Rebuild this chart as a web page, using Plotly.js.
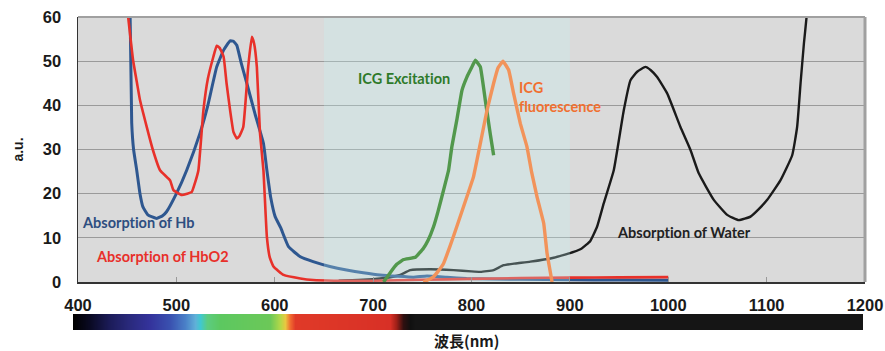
<!DOCTYPE html>
<html>
<head>
<meta charset="utf-8">
<script src="https://cdn.plot.ly/plotly-3.0.1.min.js"></script>
<style>
html,body{margin:0;padding:0;background:#fff;}
#chart{width:885px;height:351px;}
svg text{font-variant-ligatures:none;font-feature-settings:"liga" 0, "clig" 0;}
</style>
</head>
<body>
<div id="chart"></div>
<script>
// ---- Data ----
const hbNm = [453,454.6,456.5,459.7,463,466,471,480,486,490,500,510.5,524,532,541,548,554.6,558,561.4,566,571.6,580,588.5,592,596,600.4,606,614,626,639,656,673,690,707,725,741,754.7,775,795,850,900,950,1000];
const hbVal = [60,36,30,25.3,20,17,15.2,14.4,15,15.9,20,25.3,33.7,40,48.7,52.5,54.6,54.5,53.6,49.5,45,38,31.4,25.3,19,14.8,12.3,8,5.7,4.6,3.5,2.7,2.1,1.6,1.3,1.1,1.35,1.06,0.8,0.6,0.5,0.45,0.4];

const hbo2Nm = [451,456,460,463,470,476,483.4,493.6,497,505.5,511,515.7,519,522.4,527.5,532,537.6,541,544,548,551,554.6,558,561.4,564,568,573,576.7,579,581.8,585,588.5,592,595,598.7,609,626,639,660,700,750,800,850,900,950,1000];
const hbo2Val = [60,50.2,45,41.2,35,30,25.3,23,20.8,19.7,20,20.4,22.5,25.3,38.9,46,51,53.5,53,51,45,38.9,34,32.5,33,35.1,48.7,55.5,54,48.7,33.7,25.3,10.2,5.5,3.5,1.6,0.8,0.45,0.3,0.3,0.5,0.7,0.9,1.0,1.05,1.1];

const waterNm = [665,690,707,720,727.6,737.7,758,781.8,800,809,822.5,832.6,845,859.8,883.5,895,903.8,912,920.8,927.6,934.4,944.6,954.8,961.6,968.4,976.8,982,988.7,998.9,1012.4,1022.6,1031,1046.3,1059.9,1071.7,1083.6,1092,1100.6,1114,1126,1131,1134.5,1137.9,1140.6,1142];
const waterVal = [0.3,0.5,0.8,1.2,1.6,2.7,2.9,2.7,2.4,2.3,2.7,3.8,4.2,4.6,5.5,6.2,6.8,7.6,9.3,12.5,17.8,25.3,38.9,45.7,47.6,48.7,48,46.4,42.7,35.1,29.9,24.6,18.6,15.2,14,14.8,16.5,18.6,23,28.7,35.1,45,54,60,65];

const icgExNm = [710.6,717,724,731,743,751,756,761.4,766,771.6,776.7,780,785,790.3,795.3,800,803.9,809,814,819,822.5];
const icgExVal = [0,2,4,5.1,5.6,7.6,9.5,12.5,16,20.8,25.3,30.6,36.6,43.4,46.4,48.5,50.2,48.7,41.2,33.6,28.7];

const icgFlNm = [751,756,761.4,766,771.6,778,785,795.3,802,809,815.8,822.5,827,832,837.8,842.8,849.6,856.4,861,866.6,873.4,876.8,881.9];
const icgFlVal = [0,0.5,1.2,2.4,4.2,8,12.5,19.3,23.8,31.4,38.9,45,48.5,50,48,42.7,35.9,30.6,25,19.3,13.3,6.5,0];

const nirWindow = [650, 900];
const yMax = 60;

const xTicks = [400,500,600,700,800,900,1000,1100,1200];
const yTicks = [0,10,20,30,40,50,60];

// visible spectrum bar stops
const spectrumNm = [395,412,433,453,473,494,509,519,524,531,545,595,606,611,616,621,717,724,731,738,743,1200];
const spectrumColors = ['#000000','#0a0a24','#1c1c5a','#2a2a7e','#34339c','#3a52b0','#4a80c8','#60b0d8','#40c8d0','#5ccc80','#5cc860','#6cc858','#b4d848','#e8c840','#f06a30','#e03a28','#d83026','#a02018','#301010','#101010','#151515','#151515'];

// ---- Build ----
const zmin = spectrumNm[0], zmax = spectrumNm[spectrumNm.length-1];
const colorscale = spectrumNm.map((v,i)=>[(v-zmin)/(zmax-zmin), spectrumColors[i]]);

const lineTrace = (x,y,color,width,sm)=>({
  type:'scatter', mode:'lines', x:x, y:y, xaxis:'x', yaxis:'y',
  line:{color:color,width:width,shape:'spline',smoothing:sm},
  hoverinfo:'skip', showlegend:false
});

const traces = [
  lineTrace(waterNm, waterVal, '#1a1a1a', 2.4, 0.4),
  lineTrace(hbNm, hbVal, '#2e5790', 3, 0.35),
  lineTrace(hbo2Nm, hbo2Val, '#e8312a', 2.6, 0.35),
  {
    type:'scatter', mode:'lines',
    x:[nirWindow[0],nirWindow[0],nirWindow[1],nirWindow[1],nirWindow[0]],
    y:[0,yMax,yMax,0,0],
    fill:'toself', fillcolor:'rgba(195,245,245,0.27)', line:{width:0},
    hoverinfo:'skip', showlegend:false, xaxis:'x', yaxis:'y'
  },
  lineTrace(icgExNm, icgExVal, '#52984c', 3.4, 0.25),
  lineTrace(icgFlNm, icgFlVal, '#f2935a', 3.4, 0.25),
  {
    type:'heatmap', x:spectrumNm, y:[0,1], z:[spectrumNm, spectrumNm],
    zmin:zmin, zmax:zmax, colorscale:colorscale, zsmooth:'best',
    showscale:false, hoverinfo:'skip', xaxis:'x2', yaxis:'y2'
  }
];

const tickFont = {family:'"Liberation Sans", Arial, sans-serif', size:16.5, color:'#1a1a1a', weight:700};
const annFont = (c)=>({family:'Lato, "Open Sans", sans-serif', size:14.5, color:c, weight:700});

const layout = {
  width:885, height:351,
  margin:{l:73, r:20, t:17, b:20},
  paper_bgcolor:'#ffffff', plot_bgcolor:'#dadada',
  showlegend:false,
  xaxis:{
    domain:[5/792, 1], range:[400,1200], tickvals:xTicks,
    ticks:'inside', ticklen:5, tickcolor:'#999999', tickwidth:1,
    showline:true, linecolor:'#333333', linewidth:1.5,
    showgrid:false, zeroline:false, tickfont:tickFont, anchor:'y',
    ticklabelstandoff:8, fixedrange:true
  },
  yaxis:{
    domain:[49/314, 1], range:[0,yMax], tickvals:yTicks,
    ticks:'', showline:true, linecolor:'#333333', linewidth:1.5,
    showgrid:true, gridcolor:'#9a9a9a', gridwidth:1, zeroline:false,
    tickfont:tickFont, anchor:'x', ticklabelstandoff:12,
    title:{text:'a.u.', font:{family:'"Liberation Sans", Arial, sans-serif', size:14, color:'#1a1a1a', weight:700}, standoff:16},
    fixedrange:true
  },
  xaxis2:{domain:[0, 790/792], range:[395,1198.6], anchor:'y2', visible:false, fixedrange:true},
  yaxis2:{domain:[1/314, 17/314], range:[0,1], anchor:'x2', visible:false, fixedrange:true},
  shapes:[
    {type:'line', xref:'x domain', yref:'y domain', x0:0, x1:1, y0:1, y1:1, line:{color:'#a0a0a0', width:2}, layer:'above'},
    {type:'line', xref:'x domain', yref:'y domain', x0:1, x1:1, y0:0, y1:1, line:{color:'#a0a0a0', width:3}, layer:'above'}
  ],
  annotations:[
    {text:'Absorption of Hb', xref:'x', yref:'y', x:462, y:13.5, showarrow:false, xanchor:'center', yanchor:'middle', font:annFont('#2e4e80')},
    {text:'Absorption of HbO2', xref:'x', yref:'y', x:485.5, y:5.7, showarrow:false, xanchor:'center', yanchor:'middle', font:annFont('#e8302a')},
    {text:'ICG Excitation', xref:'x', yref:'y', x:731, y:46, showarrow:false, xanchor:'center', yanchor:'middle', font:annFont('#2e7a2a')},
    {text:'ICG<br>fluorescence', xref:'x', yref:'y', x:846, y:41.8, showarrow:false, xanchor:'left', yanchor:'middle', align:'left', font:annFont('#f07030')},
    {text:'Absorption of Water', xref:'x', yref:'y', x:1015.5, y:11.3, showarrow:false, xanchor:'center', yanchor:'middle', font:annFont('#222222')},
    {text:'波長(nm)', xref:'paper', yref:'paper', x:0.497, y:-0.03, showarrow:false, xanchor:'center', yanchor:'middle', font:{family:'"Noto Sans CJK JP", sans-serif', size:15, color:'#1a1a1a', weight:700}}
  ]
};

Plotly.newPlot('chart', traces, layout, {displayModeBar:false, staticPlot:true});
</script>
</body>
</html>
